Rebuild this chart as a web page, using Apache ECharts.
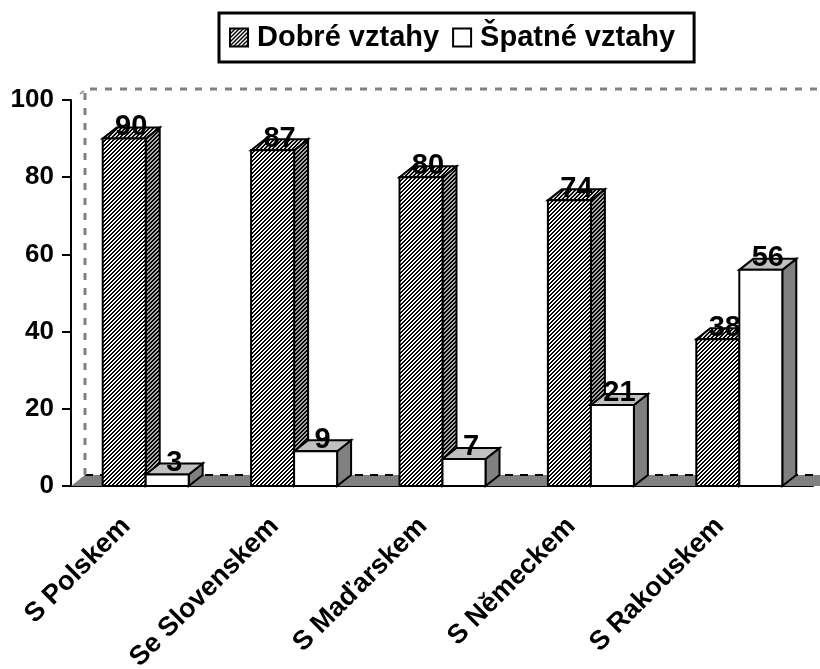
<!DOCTYPE html>
<html><head><meta charset="utf-8">
<style>html,body{margin:0;padding:0;background:#fff}#c{width:820px;height:669px}</style>
<script src="https://cdn.jsdelivr.net/npm/echarts@6/dist/echarts.min.js"></script>
</head><body><div id="c"></div>
<script>
const categories = ['S Polskem','Se Slovenskem','S Maďarskem','S Německem','S Rakouskem'];
const good = [90,87,80,74,38];
const bad = [3,9,7,21,56];
const seriesNames = ['Dobré vztahy','Špatné vztahy'];
const yTicks = {min:0,max:100,interval:20};
const FONT = '"Liberation Sans", Arial, sans-serif';

function hatch(bg){
  const c=document.createElement('canvas');c.width=4;c.height=4;
  const x=c.getContext('2d');x.fillStyle=bg;x.fillRect(0,0,4,4);
  x.fillStyle='#000';
  for(let i=0;i<4;i++)for(let j=0;j<4;j++){ if((i+j)%4<2) x.fillRect(i,j,1,1); }
  return {image:c,repeat:'repeat'};
}
const DX=14, DY=-11, BARW=43;
const faces = [
  {front:hatch('#fff'),side:hatch('#a8a8a8'),top:hatch('#d8d8d8')},
  {front:'#fff',side:'#808080',top:'#c0c0c0'}
];
function poly(points,fill,z){
  return {type:'polygon',z2:z,shape:{points},style:{fill,stroke:'#000',lineWidth:2,lineJoin:'miter'}};
}
function bar3d(idx){
  return function(params,api){
    const c=api.value(0), v=api.value(1);
    const p=api.coord([c,v]), base=api.coord([c,0]);
    const x0 = idx===0 ? p[0]-BARW+0.5 : p[0]+0.5;
    const x1 = x0+BARW, t=p[1], b=base[1];
    const f=faces[idx];
    return {type:'group',children:[
      poly([[x1,b],[x1+DX,b+DY],[x1+DX,t+DY],[x1,t]],f.side,1),
      poly([[x0,t],[x0+DX,t+DY],[x1+DX,t+DY],[x1,t]],f.top,1),
      poly([[x0,t],[x1,t],[x1,b],[x0,b]],f.front,2),
      {type:'text',z2:5,style:{text:String(v),x:(x0+x1)/2+DX/2,y:t+3,align:'center',verticalAlign:'bottom',fill:'#000',font:'bold 29px '+FONT}}
    ]};
  };
}
function wall(params,api){
  const g=params.coordSys, l=g.x, r=g.x+g.width, t=g.y, b=g.y+g.height;
  const grey={stroke:'#808080',lineWidth:3,lineDash:[7,8],fill:null};
  return {type:'group',children:[
    {type:'polygon',shape:{points:[[l,b],[l+DX,b+DY],[r+DX+10,b+DY],[r+10,b]]},style:{fill:'#808080'}},
    {type:'line',shape:{x1:l+DX,y1:b+DY,x2:r+DX,y2:b+DY},style:{stroke:'#000',lineWidth:2,lineDash:[8,7]}},
    {type:'line',shape:{x1:l+DX,y1:b+DY,x2:l+DX,y2:t+DY},style:grey},
    {type:'line',shape:{x1:l+DX+5,y1:t+DY,x2:r+DX,y2:t+DY},style:grey},
    {type:'line',shape:{x1:l+DX-5,y1:t+DY+5,x2:l+DX-1,y2:t+DY+2},style:{stroke:'#999',lineWidth:2}}
  ]};
}
const chart=echarts.init(document.getElementById('c'),null,{renderer:'canvas'});
chart.setOption({
  animation:false,
  backgroundColor:'#fff',
  legend:{
    data:seriesNames.map(n=>({name:n,icon:'rect'})),left:219,top:13,padding:[10,19,10,10],itemGap:13,itemWidth:18,itemHeight:18,
    borderColor:'#000',borderWidth:3,
    textStyle:{fontFamily:FONT,fontWeight:'bold',fontSize:29,color:'#000',padding:[0,0,0,4]}
  },
  grid:{left:71,right:7,top:100,bottom:183,outerBoundsMode:'none'},
  xAxis:{type:'category',data:categories,
    axisLine:{lineStyle:{color:'#000',width:2}},
    axisTick:{length:9,lineStyle:{color:'#000',width:2}},
    axisLabel:{rotate:45,interval:0,margin:17,padding:[0,27,0,0],color:'#000',fontFamily:FONT,fontWeight:'bold',fontSize:27},
    splitLine:{show:false}},
  yAxis:{type:'value',min:yTicks.min,max:yTicks.max,interval:yTicks.interval,
    axisLine:{show:true,lineStyle:{color:'#000',width:2}},
    axisTick:{show:true,length:9,lineStyle:{color:'#000',width:2}},
    axisLabel:{margin:17,color:'#000',fontFamily:FONT,fontWeight:'bold',fontSize:26},
    splitLine:{show:false}},
  series:[
    {type:'custom',name:'wall',silent:true,z:1,renderItem:wall,data:[[0,0]],encode:{x:0,y:1},clip:false},
    {type:'custom',name:seriesNames[0],z:2,renderItem:bar3d(0),
      itemStyle:{color:faces[0].front,borderColor:'#000',borderWidth:1.5},
      data:categories.map((c,i)=>[i,good[i]]),encode:{x:0,y:1}},
    {type:'custom',name:seriesNames[1],z:3,renderItem:bar3d(1),
      itemStyle:{color:faces[1].front,borderColor:'#000',borderWidth:1.5},
      data:categories.map((c,i)=>[i,bad[i]]),encode:{x:0,y:1}}
  ]
});
</script></body></html>
